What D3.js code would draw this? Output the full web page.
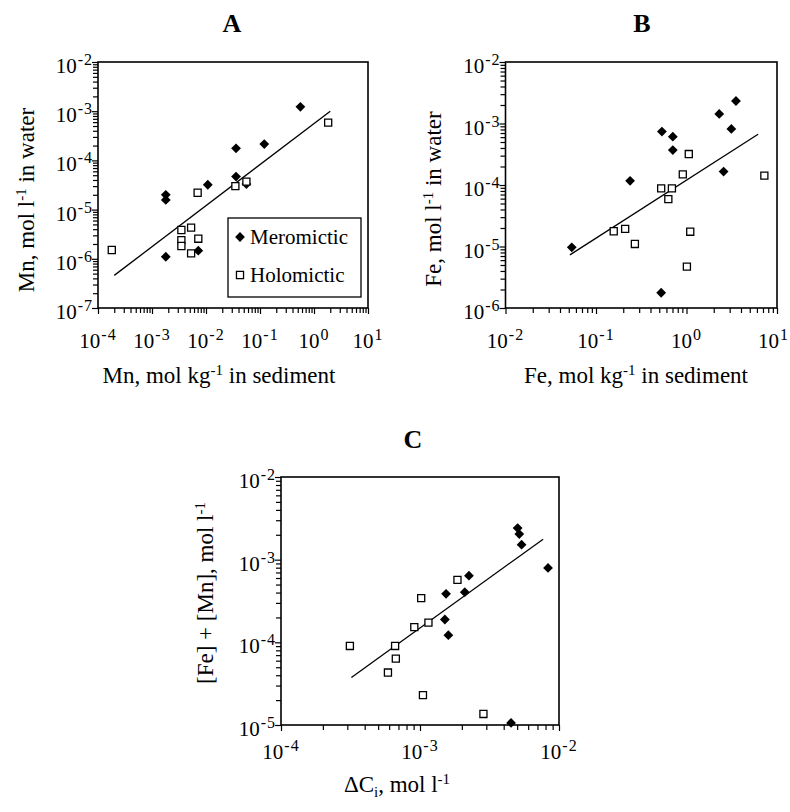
<!DOCTYPE html>
<html>
<head>
<meta charset="utf-8">
<script src="https://cdn.jsdelivr.net/npm/d3@7"></script>
<style>
  body { margin: 0; background: #fff; }
  text { font-family: "Liberation Serif", "Times New Roman", serif; fill: #000; }
</style>
</head>
<body>
<svg id="fig" width="790" height="812"></svg>
<script>
// panel A: Mn, sediment (mol/kg) vs water (mol/l)
var aMero = [[0.56, 1.23e-3], [0.12, 2.15e-4], [0.036, 1.76e-4], [0.036, 4.7e-5], [0.056, 3.3e-5],
  [0.0108, 3.2e-5], [0.0018, 2.0e-5], [0.0018, 1.57e-5], [0.0018, 1.1e-6], [0.0072, 1.46e-6]]
var aHolo = [[1.8e-4, 1.51e-6], [1.83, 5.85e-4], [0.056, 3.7e-5], [0.035, 3.0e-5], [0.007, 2.2e-5],
  [0.0035, 3.85e-6], [0.0035, 2.4e-6], [0.0035, 1.82e-6], [0.0053, 4.3e-6], [0.0053, 1.29e-6], [0.0072, 2.56e-6]]
var aFit = [[2e-4, 4.6e-7], [2, 1e-3]]
var aXExp = [-4, -3, -2, -1, 0, 1]
var aYExp = [-7, -6, -5, -4, -3, -2]

// panel B: Fe
var bMero = [[0.054, 9.7e-6], [0.238, 1.17e-4], [0.535, 7.4e-4], [0.706, 6.1e-4], [0.706, 3.7e-4],
  [0.525, 1.77e-6], [2.3, 1.43e-3], [3.52, 2.32e-3], [3.13, 8.15e-4], [2.57, 1.65e-4]]
var bHolo = [[0.157, 1.77e-5], [0.21, 1.93e-5], [0.269, 1.1e-5], [0.525, 8.8e-5], [0.69, 8.8e-5],
  [0.63, 5.9e-5], [0.91, 1.49e-4], [1.06, 3.19e-4], [1.1, 1.74e-5], [1.01, 4.7e-6], [7.25, 1.42e-4]]
var bFit = [[0.0515, 7.3e-6], [6.18, 6.67e-4]]
var bXExp = [-2, -1, 0, 1]
var bYExp = [-6, -5, -4, -3, -2]

// panel C: [Fe]+[Mn] vs delta C
var cMero = [[5.04e-3, 2.41e-3], [5.18e-3, 2.04e-3], [5.38e-3, 1.52e-3], [8.34e-3, 7.94e-4], [2.25e-3, 6.41e-4],
  [2.1e-3, 4.04e-4], [1.54e-3, 3.86e-4], [1.51e-3, 1.89e-4], [1.6e-3, 1.22e-4], [4.52e-3, 1.06e-5]]
var cHolo = [[3.13e-4, 9.04e-5], [5.88e-4, 4.31e-5], [6.62e-4, 9.04e-5], [6.7e-4, 6.35e-5], [9.1e-4, 1.53e-4],
  [1.02e-3, 3.42e-4], [1.15e-3, 1.73e-4], [1.05e-3, 2.3e-5], [1.86e-3, 5.69e-4], [2.86e-3, 1.36e-5]]
var cFit = [[3.21e-4, 3.76e-5], [7.69e-3, 1.77e-3]]
var cXExp = [-4, -3, -2]
var cYExp = [-5, -4, -3, -2]

var legendLabels = ["Meromictic", "Holomictic"]

var svg = d3.select("#fig")
var W = 790

// "10" with a raised exponent
function powLabel(g, x, y, exp, anchor) {
  var t = g.append("text")
    .attr("x", x).attr("y", y)
    .attr("text-anchor", anchor)
    .style("font-size", "21px")
  t.append("tspan").text("10")
  t.append("tspan").attr("dy", -8).attr("dx", 1)
    .style("font-size", "16px").style("letter-spacing", "1px")
    .text(String(exp))
  // keep it inside the page
  var b = t.node().getBBox()
  if (b.x + b.width > W - 1) t.attr("x", x - (b.x + b.width - W + 1))
  return t
}

// pieces: [text, "sup"|"sub"|null]
function richText(t, pieces) {
  var shift = 0
  pieces.forEach(p => {
    var want = p[1] == "sup" ? -8 : p[1] == "sub" ? 5 : 0
    t.append("tspan")
      .attr("dy", want - shift)
      .style("font-size", p[1] ? "15px" : null)
      .text(p[0])
    shift = want
  })
  return t
}

function minorVals(xExp) {
  var vals = []
  for (var i = 0; i < xExp.length - 1; i++) {
    for (var j = 2; j < 10; j++) vals.push(j * Math.pow(10, xExp[i]))
  }
  return vals
}

function diamond(g, pts, x, y) {
  g.selectAll("path.mero").data(pts).enter().append("path")
    .attr("class", "mero")
    .attr("d", d3.symbol(d3.symbolSquare, 48))
    .attr("transform", d => "translate(" + x(d[0]) + "," + y(d[1]) + ") rotate(45)")
    .attr("fill", "#000")
}

function square(g, pts, x, y) {
  g.selectAll("path.holo").data(pts).enter().append("path")
    .attr("class", "holo")
    .attr("d", d3.symbol(d3.symbolSquare, 50))
    .attr("transform", d => "translate(" + x(d[0]) + "," + y(d[1]) + ")")
    .attr("fill", "#fff")
    .attr("stroke", "#000")
    .attr("stroke-width", 1.3)
}

function panel(p) {
  var g = svg.append("g")
  var x = d3.scaleLog()
    .domain([Math.pow(10, p.xExp[0]), Math.pow(10, p.xExp[p.xExp.length - 1])])
    .range([p.left, p.right])
  var y = d3.scaleLog()
    .domain([Math.pow(10, p.yExp[0]), Math.pow(10, p.yExp[p.yExp.length - 1])])
    .range([p.bottom, p.top])

  // ticks
  var xMajor = p.xExp.map(e => Math.pow(10, e))
  var yMajor = p.yExp.map(e => Math.pow(10, e))
  var axes = [
    d3.axisBottom(x).tickValues(minorVals(p.xExp)).tickSize(5),
    d3.axisBottom(x).tickValues(xMajor).tickSize(6)
  ]
  axes.forEach(a => {
    g.append("g").attr("transform", "translate(0," + p.bottom + ")")
      .call(a.tickFormat("").tickSizeOuter(0))
      .call(s => s.select(".domain").remove())
      .selectAll("line").attr("stroke-width", 1.2)
  })
  var yAxes = [
    d3.axisLeft(y).tickValues(minorVals(p.yExp)).tickSize(5),
    d3.axisLeft(y).tickValues(yMajor).tickSize(6)
  ]
  yAxes.forEach(a => {
    g.append("g").attr("transform", "translate(" + p.left + ",0)")
      .call(a.tickFormat("").tickSizeOuter(0))
      .call(s => s.select(".domain").remove())
      .selectAll("line").attr("stroke-width", 1.2)
  })

  // frame
  g.append("rect")
    .attr("x", p.left).attr("y", p.top)
    .attr("width", p.right - p.left).attr("height", p.bottom - p.top)
    .attr("fill", "none").attr("stroke", "#000").attr("stroke-width", 1.6)

  // tick labels
  p.xExp.forEach(e => powLabel(g, x(Math.pow(10, e)), p.bottom + p.xLabDy, e, "middle"))
  p.yExp.forEach(e => powLabel(g, p.left - 5, y(Math.pow(10, e)) + 11, e, "end"))

  // fit line
  g.append("path")
    .datum(p.fit)
    .attr("d", d3.line().x(d => x(d[0])).y(d => y(d[1])))
    .attr("fill", "none").attr("stroke", "#000").attr("stroke-width", 1.3)

  diamond(g, p.mero, x, y)
  square(g, p.holo, x, y)

  // panel letter
  g.append("text")
    .attr("x", p.letterX).attr("y", p.letterY)
    .attr("text-anchor", "middle")
    .style("font-size", "26px").style("font-weight", "bold")
    .text(p.letter)

  // axis titles
  richText(g.append("text")
    .attr("x", p.xTitleX).attr("y", p.xTitleY)
    .attr("text-anchor", "middle")
    .style("font-size", "23px"), p.xTitle)
  richText(g.append("text")
    .attr("transform", "translate(" + p.yTitleX + "," + p.yTitleY + ") rotate(-90)")
    .attr("text-anchor", "middle")
    .style("font-size", "23px"), p.yTitle)

  return { g: g, x: x, y: y }
}

var A = panel({
  left: 98, right: 368, top: 62, bottom: 308,
  xExp: aXExp, yExp: aYExp, mero: aMero, holo: aHolo, fit: aFit,
  xLabDy: 40, letter: "A", letterX: 232, letterY: 32,
  xTitle: [["Mn, mol kg", null], ["-1", "sup"], [" in sediment", null]], xTitleX: 219, xTitleY: 383,
  yTitle: [["Mn, mol l", null], ["-1", "sup"], [" in water", null]], yTitleX: 34, yTitleY: 200
})

panel({
  left: 505.5, right: 777, top: 62, bottom: 308,
  xExp: bXExp, yExp: bYExp, mero: bMero, holo: bHolo, fit: bFit,
  xLabDy: 40, letter: "B", letterX: 642, letterY: 32,
  xTitle: [["Fe, mol kg", null], ["-1", "sup"], [" in sediment", null]], xTitleX: 636, xTitleY: 383,
  yTitle: [["Fe, mol l", null], ["-1", "sup"], [" in water", null]], yTitleX: 441, yTitleY: 199
})

panel({
  left: 281, right: 559, top: 477, bottom: 725,
  xExp: cXExp, yExp: cYExp, mero: cMero, holo: cHolo, fit: cFit,
  xLabDy: 34, letter: "C", letterX: 413, letterY: 448,
  xTitle: [["\u0394C", null], ["i", "sub"], [", mol l", null], ["-1", "sup"]], xTitleX: 397, xTitleY: 792,
  yTitle: [["[Fe] + [Mn], mol l", null], ["-1", "sup"]], yTitleX: 213, yTitleY: 593
})

// legend in panel A
var leg = A.g.append("g")
leg.append("rect")
  .attr("x", 228).attr("y", 218).attr("width", 133).attr("height", 79)
  .attr("fill", "#fff").attr("stroke", "#000").attr("stroke-width", 1.3)
legendLabels.forEach((name, i) => {
  var cy = 237 + i * 38
  var m = leg.append("path")
    .attr("d", d3.symbol(d3.symbolSquare, i == 0 ? 48 : 50))
  if (i == 0) {
    m.attr("transform", "translate(240," + cy + ") rotate(45)").attr("fill", "#000")
  } else {
    m.attr("transform", "translate(240," + cy + ")")
      .attr("fill", "#fff").attr("stroke", "#000").attr("stroke-width", 1.3)
  }
  leg.append("text")
    .attr("x", 250).attr("y", cy + 7)
    .style("font-size", "21px")
    .text(name)
})
</script>
</body>
</html>
